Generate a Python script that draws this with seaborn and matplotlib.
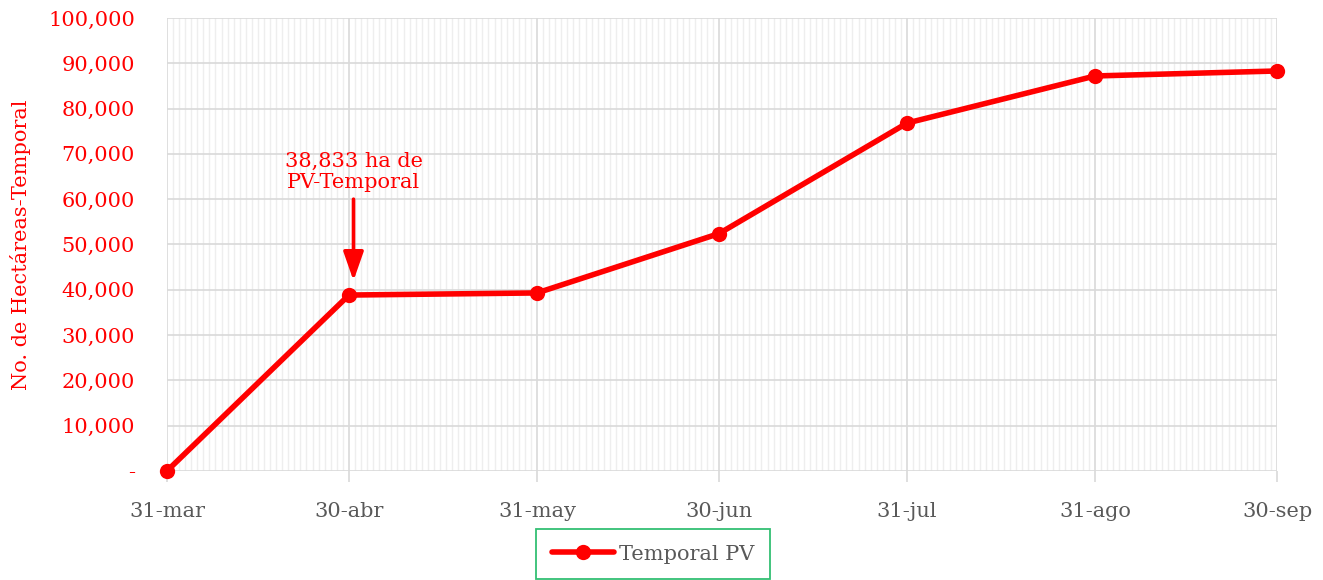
import matplotlib
matplotlib.use("Agg")
import matplotlib.pyplot as plt
import matplotlib.dates as mdates
from matplotlib.ticker import FuncFormatter
import seaborn as sns
import pandas as pd

dates = ["2023-03-31", "2023-04-30", "2023-05-31", "2023-06-30", "2023-07-31", "2023-08-31", "2023-09-30"]
tick_labels = ["31-mar", "30-abr", "31-may", "30-jun", "31-jul", "31-ago", "30-sep"]
hectareas = [0, 38833, 39300, 52400, 76800, 87200, 88300]
series_name = "Temporal PV"

df = pd.DataFrame({"fecha": pd.to_datetime(dates), "ha": hectareas, "serie": series_name})

sns.set_theme(style="white")
plt.rcParams['font.family'] = ['DejaVu Serif']

RED = "#ff0000"
FS = 15
fig = plt.figure(figsize=(13.23, 5.8), dpi=100)
ax = fig.add_axes([0.1262, 0.188, 0.8391, 0.781])

sns.lineplot(data=df, x="fecha", y="ha", hue="serie", palette=[RED], marker="o",
             markersize=11, linewidth=4.0, markeredgewidth=0, ax=ax, legend=True)
for ln in ax.lines:
    ln.set_clip_on(False)

ax.set_xlim(df["fecha"].iloc[0], df["fecha"].iloc[-1])
ax.set_ylim(0, 100000)
ax.set_yticks(range(0, 100001, 10000))
ax.yaxis.set_major_formatter(FuncFormatter(lambda v, p: "-" if v == 0 else f"{int(v):,}"))
ax.set_xticks(df["fecha"])
ax.set_xticklabels(tick_labels)
ax.xaxis.set_minor_locator(mdates.DayLocator())

ax.grid(True, which="major", color="#d9d9d9", linewidth=1.2)
ax.grid(True, which="minor", axis="x", color="#eeeeee", linewidth=1.0)
ax.set_axisbelow(True)
for s in ax.spines.values():
    s.set_visible(False)

ax.tick_params(axis="y", colors=RED, labelsize=FS, length=0, pad=23)
ax.tick_params(axis="x", which="major", colors="#d9d9d9", labelcolor="#595959", labelsize=FS,
               length=8, width=1.2, pad=14, bottom=True)
ax.tick_params(axis="x", which="minor", length=0)
ax.set_xlabel("")
ax.set_ylabel("No. de Hectáreas-Temporal", color=RED, fontsize=FS, labelpad=12)

x_ann = pd.Timestamp("2023-04-30") + pd.Timedelta(hours=18)
ax.annotate("", xy=(x_ann, 42000), xytext=(x_ann, 60000),
            arrowprops=dict(arrowstyle="-|>,head_length=0.8,head_width=0.28", color=RED, lw=2.6,
                            mutation_scale=22, shrinkA=0, shrinkB=0))
ax.text(x_ann, 66000, "38,833 ha de\nPV-Temporal", color=RED, fontsize=FS,
        ha="center", va="center", linespacing=1.15)

handles, labels = ax.get_legend_handles_labels()
leg = ax.legend(handles, labels, loc="upper center", bbox_to_anchor=(0.438, -0.128),
                frameon=True, fontsize=FS, handlelength=3.0, handletextpad=0.25,
                borderpad=0.75, fancybox=False, edgecolor="#00b050", borderaxespad=0)
leg.get_frame().set_linewidth(1.3)
for t in leg.get_texts():
    t.set_color("#595959")

fig.savefig("out.png", dpi=100)
